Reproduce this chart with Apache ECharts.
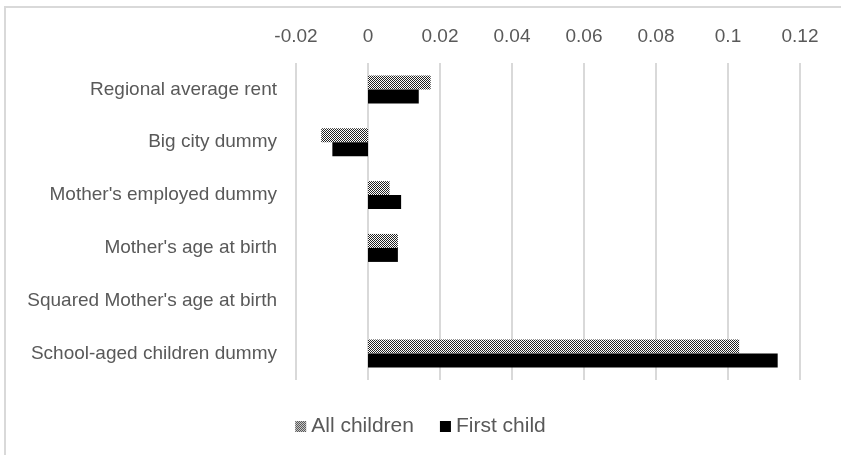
<!DOCTYPE html>
<html>
<head>
<meta charset="utf-8">
<script src="https://cdn.jsdelivr.net/npm/echarts@6/dist/echarts.min.js"></script>
<style>
  html, body { margin: 0; padding: 0; background: #fff; }
  #chart { width: 841px; height: 455px; }
</style>
</head>
<body>
<div id="chart"></div>
<script>
// categories, top to bottom
var categories = [
  'Regional average rent',
  'Big city dummy',
  "Mother's employed dummy",
  "Mother's age at birth",
  "Squared Mother's age at birth",
  'School-aged children dummy'
];
var allChildren = [0.0174, -0.0130, 0.0060, 0.0083, 0, 0.1031];
var firstChild = [0.0141, -0.0099, 0.0092, 0.0083, 0, 0.1138];

// dotted fill for "All children"
function makePattern() {
  var c = document.createElement('canvas');
  c.width = 2; c.height = 2;
  var ctx = c.getContext('2d');
  ctx.fillStyle = '#ffffff';
  ctx.fillRect(0, 0, 2, 2);
  ctx.fillStyle = '#222222';
  ctx.fillRect(0, 0, 1, 1);
  ctx.fillRect(1, 1, 1, 1);
  return c;
}
var dots = { image: makePattern(), repeat: 'repeat' };

var font = 'Liberation Sans';
var textColor = '#595959';

var myChart = echarts.init(document.getElementById('chart'));
var option = {
  animation: false,
  backgroundColor: '#fff',
  grid: { left: 296, right: 41, top: 63, bottom: 75 },
  legend: {
    bottom: 13,
    left: 'center',
    itemWidth: 11,
    itemHeight: 11,
    itemGap: 26,
    textStyle: { fontFamily: font, fontSize: 21, color: textColor },
    data: [
      { name: 'All children', icon: 'rect' },
      { name: 'First child', icon: 'rect' }
    ]
  },
  xAxis: {
    type: 'value',
    position: 'top',
    min: -0.02,
    max: 0.12,
    interval: 0.02,
    axisLine: { show: false },
    axisTick: { show: false },
    axisLabel: {
      margin: 17,
      fontFamily: font,
      fontSize: 19,
      color: textColor,
      formatter: function (v) { return String(Math.round(v * 100) / 100); }
    },
    splitLine: { lineStyle: { color: '#d9d9d9', width: 2 } }
  },
  yAxis: {
    type: 'category',
    inverse: true,
    data: categories,
    axisLine: { show: false },
    axisTick: { show: false },
    axisLabel: { margin: 19, fontFamily: font, fontSize: 19, color: textColor }
  },
  series: [
    {
      name: 'All children',
      type: 'bar',
      data: allChildren,
      barWidth: 14,
      barGap: '0%',
      itemStyle: { color: dots }
    },
    {
      name: 'First child',
      type: 'bar',
      data: firstChild,
      barWidth: 14,
      itemStyle: { color: '#000000' }
    }
  ],
  graphic: [
    {
      type: 'rect',
      shape: { x: 5, y: 7, width: 900, height: 500 },
      style: { fill: 'none', stroke: '#d9d9d9', lineWidth: 2 },
      silent: true
    }
  ]
};
myChart.setOption(option);
</script>
</body>
</html>
